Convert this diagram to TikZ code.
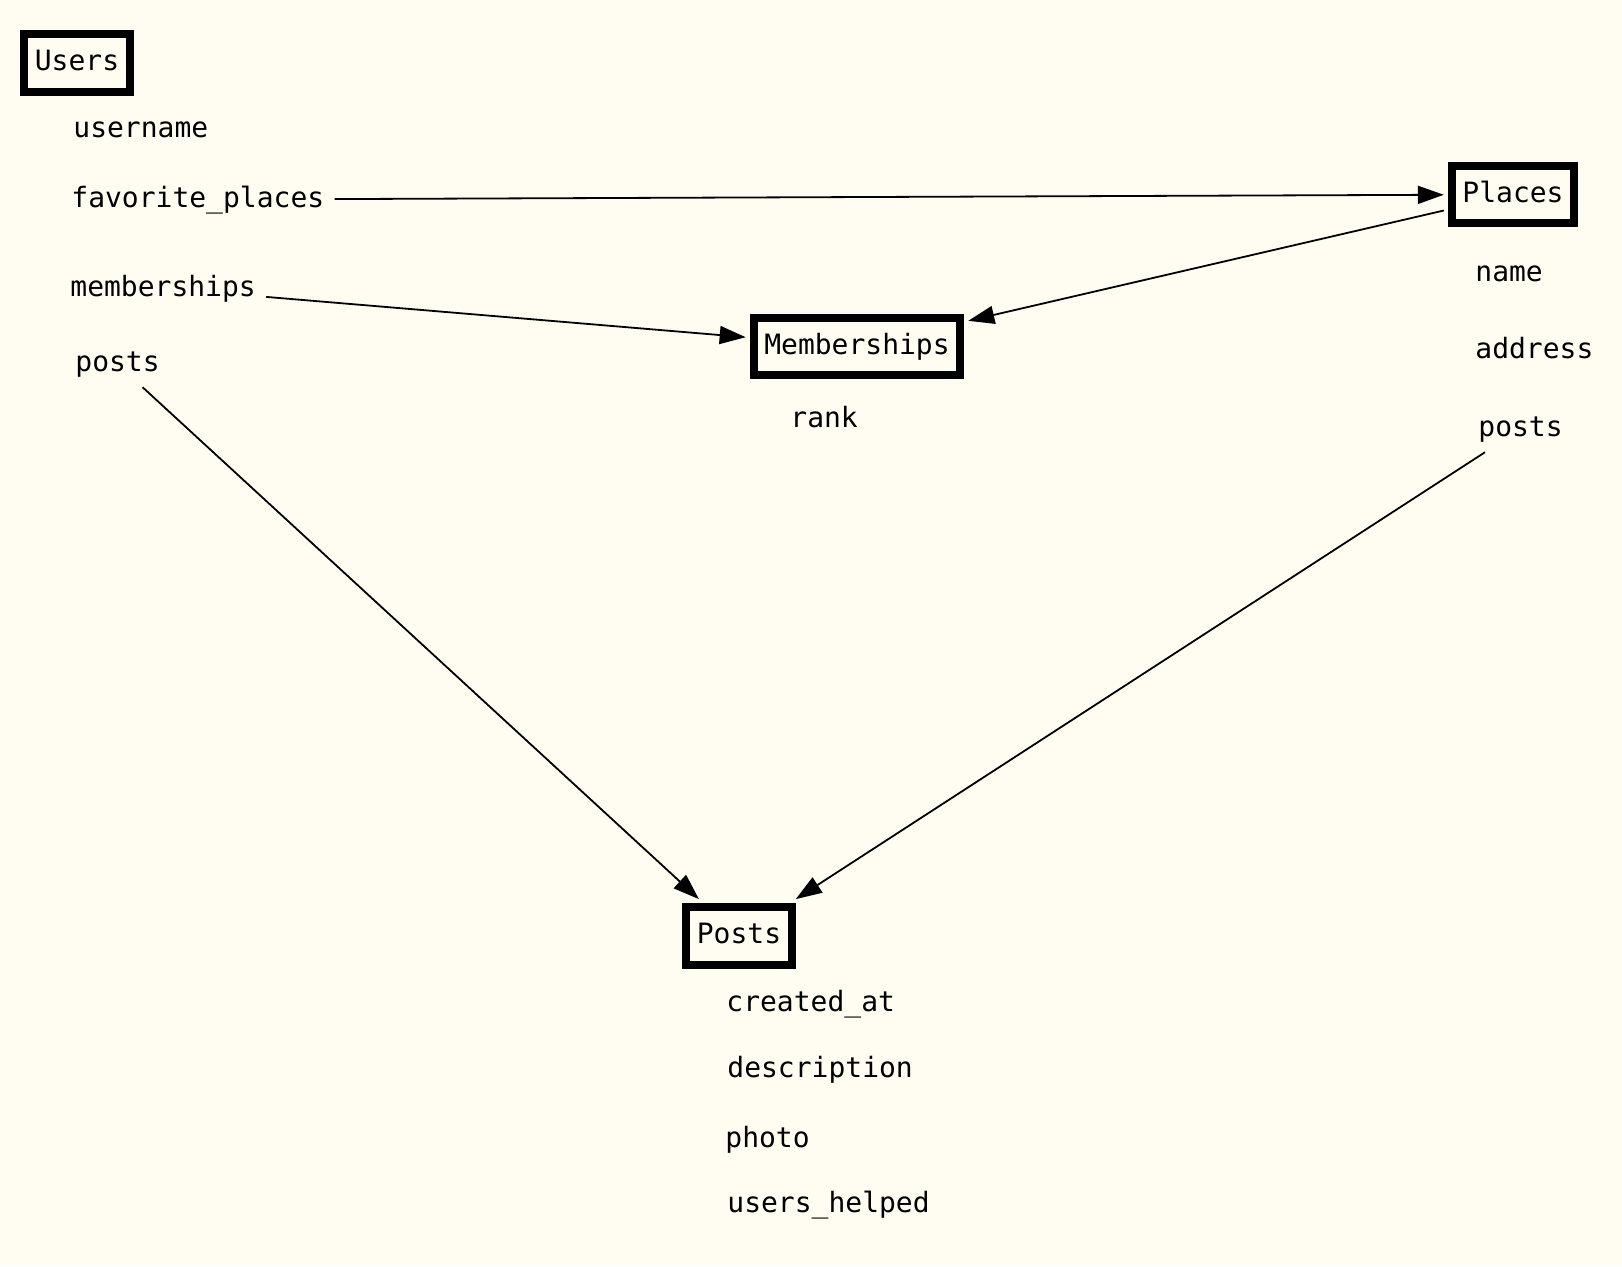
\documentclass[tikz,border=0pt]{standalone}
\usepackage{fontspec}
\setmonofont{DejaVu Sans Mono}
\usetikzlibrary{arrows.meta}
\definecolor{paper}{RGB}{255,253,242}

\begin{document}
\begin{tikzpicture}[x=.5pt,y=-.5pt,
	every node/.style={font=\ttfamily\fontsize{14pt}{16pt}\selectfont},
	entity/.style={draw,line width=4pt,inner xsep=5.3pt,inner ysep=7.7pt,text height=10.5pt,text depth=3pt,outer sep=4pt},
	field/.style={anchor=base west,inner sep=5pt},
	rel/.style={line width=.9pt,-{Triangle[length=13pt,width=9pt]}}]
\fill[paper] (0,0) rectangle (1622,1266);
\useasboundingbox (0,0) rectangle (1622,1266);

\node[entity] (users) at (77,63) {Users};
\node[entity] (places) at (1513,194.5) {Places};
\node[entity] (memberships) at (857,346.5) {Memberships};
\node[entity] (posts) at (739,936) {Posts};

\foreach \n/\t/\x/\y in {username/username/63/137,favplaces/favorite\_places/61/207,
	usermemb/memberships/60/296,userposts/posts/65/371,
	name/name/1465/281,address/address/1465/358,placeposts/posts/1468/436,
	rank/rank/780/427,
	created/created\_at/716/1011,descr/description/717/1077,photo/photo/715/1147,helped/users\_helped/717/1212}
	\node[field] (\n) at (\x,\y) {\t};

\draw[rel] (favplaces) -- (places);
\draw[rel] (places) -- (memberships);
\draw[rel] (usermemb) -- (memberships);
\draw[rel] (userposts) -- (posts);
\draw[rel] (placeposts) -- (posts);

\end{tikzpicture}
\end{document}
